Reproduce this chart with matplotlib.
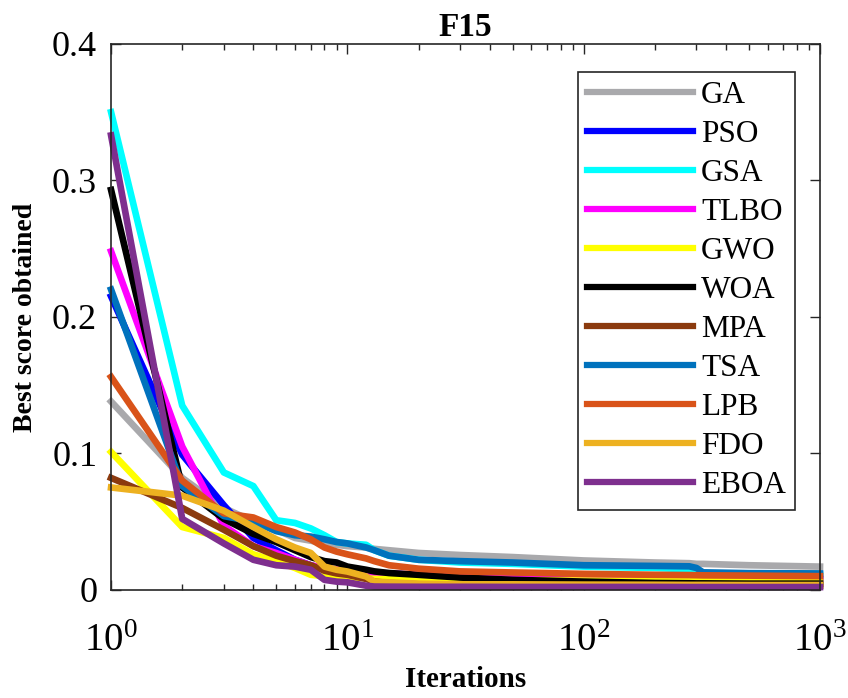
import matplotlib
matplotlib.use('Agg')
import matplotlib.pyplot as plt
import numpy as np
from matplotlib.ticker import FuncFormatter, FixedLocator

plt.rcParams['font.family'] = ['Liberation Serif', 'DejaVu Serif']
plt.rcParams['mathtext.fontset'] = 'custom'
plt.rcParams['mathtext.rm'] = 'Liberation Serif'
plt.rcParams['mathtext.it'] = 'Liberation Serif:italic'

iters = [1, 2, 3, 4, 5, 6, 7, 8, 9, 10, 12, 13, 15, 20, 30, 50, 100, 200, 280, 300, 320, 500, 1000]

GA   = [0.138, 0.082, 0.060, 0.050, 0.044, 0.038, 0.036, 0.034, 0.033, 0.032, 0.031, 0.030, 0.029, 0.027, 0.0255, 0.024, 0.0215, 0.020, 0.0195, 0.019, 0.019, 0.018, 0.017]
PSO  = [0.215, 0.099, 0.062, 0.038, 0.029, 0.022, 0.018, 0.015, 0.013, 0.012, 0.011, 0.0105, 0.010, 0.0095, 0.009, 0.0088, 0.0085, 0.008, 0.008, 0.008, 0.008, 0.0078, 0.0075]
GSA  = [0.350, 0.135, 0.086, 0.076, 0.051, 0.049, 0.045, 0.040, 0.035, 0.034, 0.033, 0.029, 0.025, 0.022, 0.020, 0.019, 0.017, 0.016, 0.015, 0.013, 0.012, 0.0115, 0.011]
TLBO = [0.248, 0.105, 0.047, 0.032, 0.027, 0.022, 0.018, 0.016, 0.015, 0.0135, 0.013, 0.0125, 0.012, 0.011, 0.010, 0.0095, 0.009, 0.0088, 0.0085, 0.0085, 0.0085, 0.0083, 0.008]
GWO  = [0.101, 0.046, 0.038, 0.026, 0.021, 0.016, 0.011, 0.010, 0.0095, 0.009, 0.0085, 0.008, 0.008, 0.0075, 0.0073, 0.007, 0.0068, 0.0065, 0.0063, 0.0063, 0.0063, 0.0062, 0.006]
WOA  = [0.293, 0.075, 0.052, 0.041, 0.035, 0.029, 0.024, 0.021, 0.020, 0.017, 0.0147, 0.0135, 0.0123, 0.011, 0.009, 0.0073, 0.006, 0.005, 0.0048, 0.0047, 0.0047, 0.0045, 0.0045]
MPA  = [0.082, 0.060, 0.044, 0.032, 0.025, 0.021, 0.018, 0.014, 0.012, 0.011, 0.008, 0.006, 0.005, 0.004, 0.0035, 0.0033, 0.003, 0.003, 0.003, 0.003, 0.003, 0.003, 0.003]
TSA  = [0.220, 0.076, 0.054, 0.050, 0.043, 0.040, 0.039, 0.037, 0.035, 0.034, 0.031, 0.029, 0.025, 0.022, 0.021, 0.020, 0.018, 0.0175, 0.0172, 0.016, 0.0128, 0.0122, 0.012]
LPB  = [0.156, 0.080, 0.056, 0.053, 0.046, 0.042, 0.037, 0.031, 0.028, 0.026, 0.023, 0.021, 0.018, 0.0155, 0.0135, 0.0127, 0.0117, 0.011, 0.0108, 0.0107, 0.0106, 0.0104, 0.010]
FDO  = [0.075, 0.069, 0.058, 0.046, 0.037, 0.031, 0.027, 0.017, 0.0147, 0.0134, 0.0098, 0.006, 0.0055, 0.0045, 0.004, 0.004, 0.0038, 0.0037, 0.0036, 0.0036, 0.0036, 0.0035, 0.0035]
EBOA = [0.333, 0.052, 0.034, 0.022, 0.018, 0.017, 0.0147, 0.0073, 0.006, 0.0055, 0.003, 0.0024, 0.0023, 0.0022, 0.0022, 0.0021, 0.0021, 0.0021, 0.002, 0.002, 0.002, 0.002, 0.002]

names = ['GA', 'PSO', 'GSA', 'TLBO', 'GWO', 'WOA', 'MPA', 'TSA', 'LPB', 'FDO', 'EBOA']
series = [GA, PSO, GSA, TLBO, GWO, WOA, MPA, TSA, LPB, FDO, EBOA]
colors = ['#A9A9AC', '#0000FF', '#00FFFF', '#FF00FF', '#FFFF00', '#000000',
          '#8B3A0E', '#0072BD', '#D95319', '#EDB120', '#7E2F8E']

fig = plt.figure(figsize=(8.48, 6.98), dpi=100)
ax = fig.add_axes([0.131, 0.155, 0.836, 0.782])

for name, vals, c in zip(names, series, colors):
    ax.semilogx(iters, vals, color=c, linewidth=4.8, label=name, clip_on=False)

ax.set_xlim(1, 1000)
ax.set_ylim(0, 0.4)
ax.yaxis.set_major_locator(FixedLocator([0, 0.1, 0.2, 0.3, 0.4]))
ax.yaxis.set_major_formatter(FuncFormatter(lambda v, p: '%g' % v))

edge = '#262626'
for s in ax.spines.values():
    s.set_color(edge)
    s.set_linewidth(1.2)
ax.tick_params(which='both', direction='in', top=True, right=True, color=edge)
ax.tick_params(which='major', length=7, width=1.0)
ax.tick_params(which='minor', length=4, width=1.0)
ax.tick_params(axis='y', labelsize=26, pad=10)
ax.tick_params(axis='x', labelsize=28, pad=24)

ax.set_title('F15', fontsize=24, fontweight='bold', pad=6)
ax.set_xlabel('Iterations', fontsize=21, fontweight='bold', labelpad=4)
ax.set_ylabel('Best score obtained', fontsize=20, fontweight='bold', labelpad=10)

leg = ax.legend(loc='upper right', bbox_to_anchor=(0.965, 0.949), fontsize=22.5,
                handlelength=3.4, handletextpad=0.25, borderpad=0.3, labelspacing=0.32,
                fancybox=False, framealpha=1, borderaxespad=0)
leg.get_frame().set_edgecolor(edge)
leg.get_frame().set_linewidth(1.2)
for line in leg.get_lines():
    line.set_linewidth(4.5)

fig.savefig('out.png', dpi=100)
